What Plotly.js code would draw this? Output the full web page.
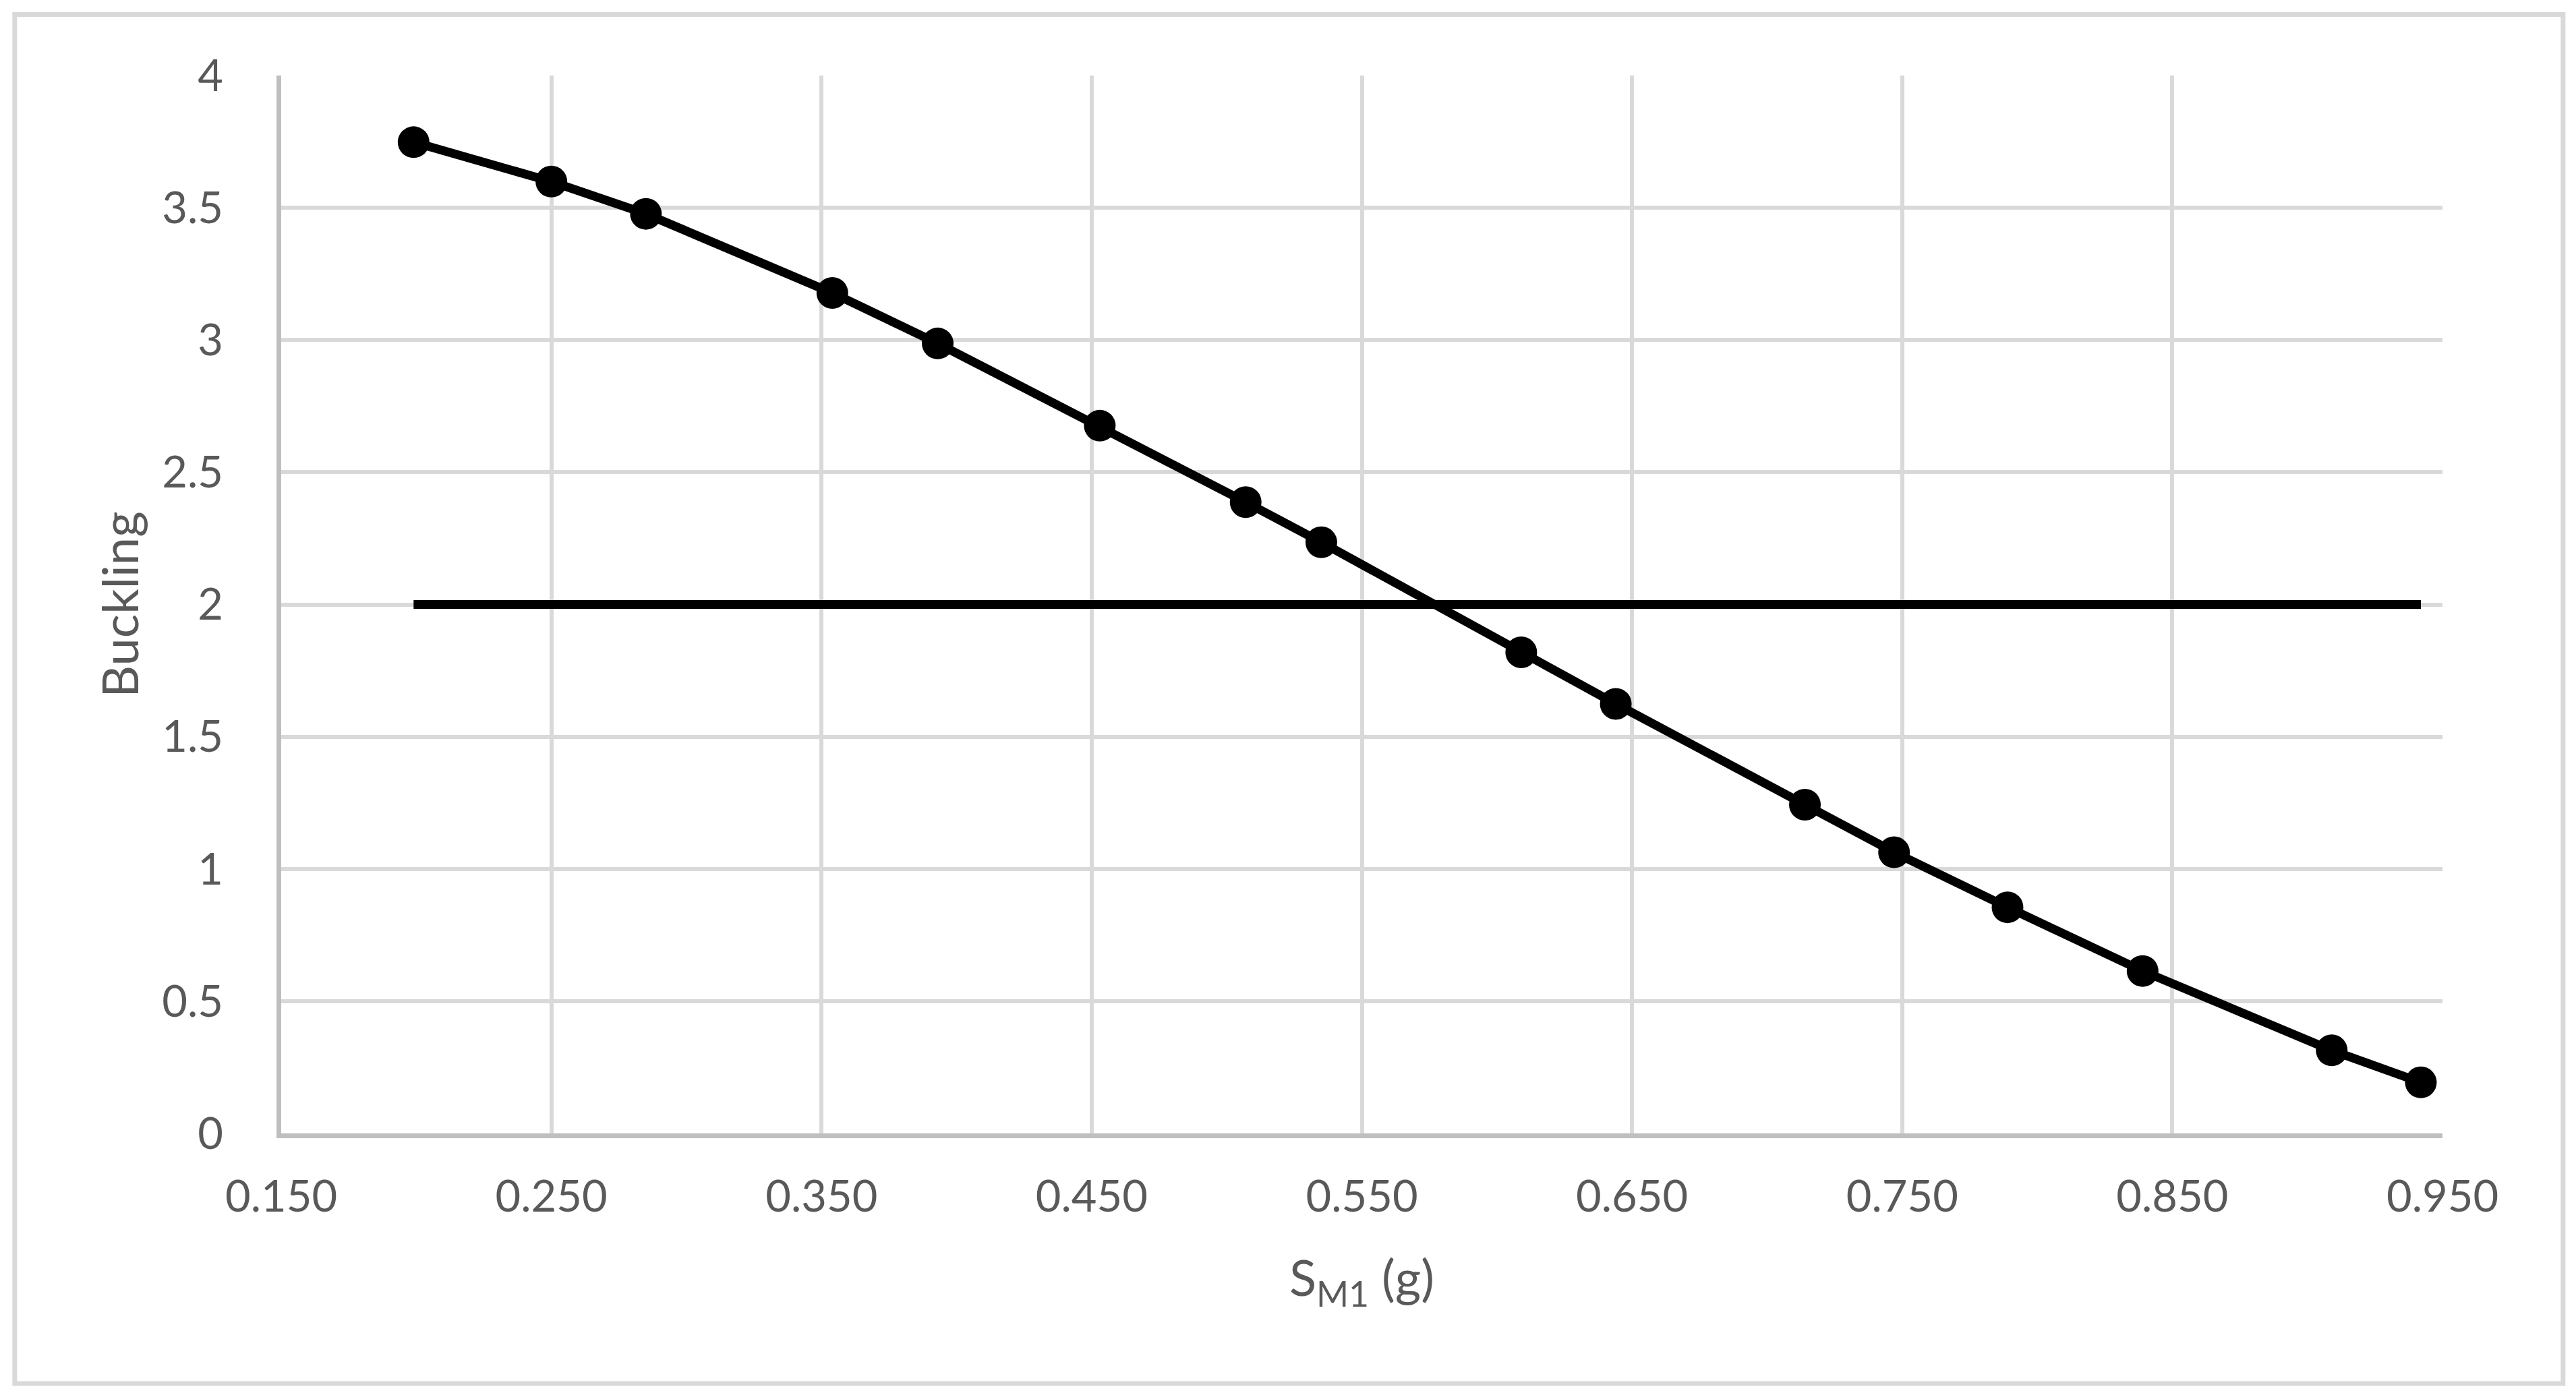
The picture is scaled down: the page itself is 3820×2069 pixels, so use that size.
<!DOCTYPE html>
<html>
<head>
<meta charset="utf-8">
<script src="https://cdn.plot.ly/plotly-3.0.1.min.js"></script>
<style>
    html, body { margin: 0; padding: 0; background: #fff; }
    #chart { width: 3820px; height: 2069px; }
</style>
</head>
<body>
<div id="chart"></div>
<script>
// S_M1 (g) values and the buckling ratio
const sm1 = [0.199, 0.250, 0.285, 0.354, 0.393, 0.453, 0.507, 0.535, 0.609, 0.644, 0.714, 0.747, 0.789, 0.839, 0.909, 0.942];
const buckling = [3.748, 3.599, 3.477, 3.178, 2.987, 2.676, 2.387, 2.235, 1.819, 1.624, 1.243, 1.063, 0.855, 0.614, 0.314, 0.193];

// limit line at 2, spanning the same x range
const limitX = [0.199, 0.942];
const limitY = [2, 2];

const xTicks = [0.15, 0.25, 0.35, 0.45, 0.55, 0.65, 0.75, 0.85, 0.95];
const yTicks = [0, 0.5, 1, 1.5, 2, 2.5, 3, 3.5, 4];

const FONT = "Lato, 'Open Sans', sans-serif"
const GREY_TEXT = "#595959"
const GRID = "#d9d9d9"
const AXIS = "#bfbfbf"

function drawChart(container){
    var curve = {
        x: sm1,
        y: buckling,
        type: 'scatter',
        mode: 'lines+markers',
        line: {color: '#000000', width: 13},
        marker: {color: '#000000', size: 47},
        hoverinfo: 'x+y'
    }
    var limit = {
        x: limitX,
        y: limitY,
        type: 'scatter',
        mode: 'lines',
        line: {color: '#000000', width: 13},
        hoverinfo: 'y'
    }

    var layout = {
        width: 3820,
        height: 2069,
        margin: {l: 417, r: 198, t: 112, b: 388},
        paper_bgcolor: '#ffffff',
        plot_bgcolor: '#ffffff',
        showlegend: false,
        font: {family: FONT, color: GREY_TEXT},
        xaxis: {
            range: [0.15, 0.95],
            tickvals: xTicks,
            tickformat: '.3f',
            tickfont: {size: 65, color: GREY_TEXT},
            ticks: '',
            ticklabelstandoff: 31,
            showgrid: true,
            gridcolor: GRID,
            gridwidth: 6,
            zeroline: false,
            showline: true,
            linecolor: AXIS,
            linewidth: 7,
            title: {text: 'S<sub>M1</sub> (g)', font: {size: 74, color: GREY_TEXT}, standoff: 63}
        },
        yaxis: {
            range: [0, 4],
            tickvals: yTicks,
            tickfont: {size: 65, color: GREY_TEXT},
            ticks: '',
            ticklabelstandoff: 66,
            showgrid: true,
            gridcolor: GRID,
            gridwidth: 6,
            zeroline: false,
            showline: true,
            linecolor: AXIS,
            linewidth: 7,
            title: {text: 'Buckling', font: {size: 74, color: GREY_TEXT}, standoff: 13}
        },
        shapes: [
            // outer chart frame
            {type: 'rect', xref: 'paper', yref: 'paper', x0: -0.1233, x1: 1.0558, y0: -0.2365, y1: 1.0577,
             line: {color: GRID, width: 7}, fillcolor: 'rgba(0,0,0,0)', layer: 'below'}
        ]
    }

    Plotly.newPlot(container, [curve, limit], layout, {displayModeBar: false, responsive: false});
}

drawChart(document.getElementById('chart'));
</script>
</body>
</html>
